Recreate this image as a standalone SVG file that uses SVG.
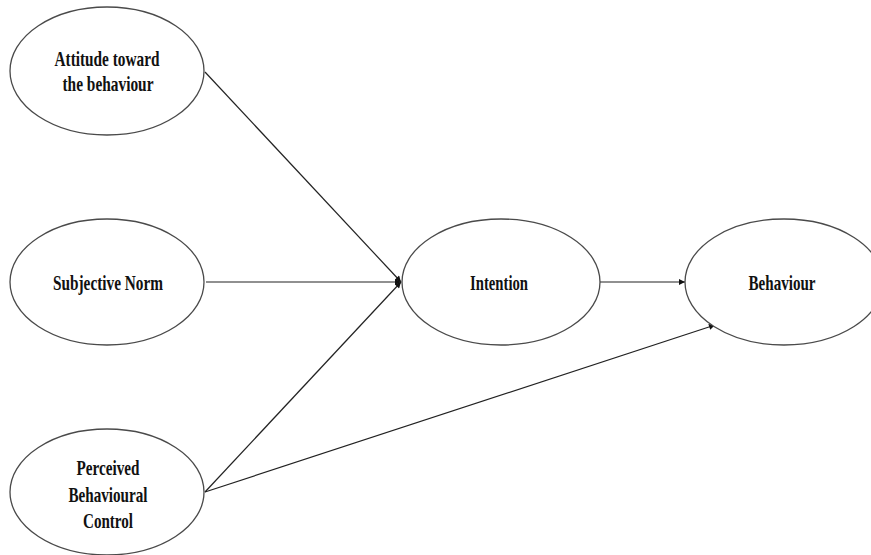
<svg xmlns="http://www.w3.org/2000/svg" width="871" height="555" viewBox="0 0 871 555">
<style>
ellipse{fill:#fff;stroke:#4a4a4a;stroke-width:1.3}
text{font-family:"Liberation Serif","Times New Roman",serif;font-weight:bold;font-size:21px;fill:#111;text-anchor:middle}
.c{stroke:#222;stroke-width:1.2;fill:none}
</style>
<defs>
<marker id="ah" viewBox="0 0 10 10" refX="10" refY="5" markerWidth="8" markerHeight="6" markerUnits="userSpaceOnUse" orient="auto">
<path d="M0,0L10,5L0,10z" fill="#111"/>
</marker>
</defs>
<rect width="871" height="555" fill="#fff"/>
<g id="connectors">
<line class="c" x1="205" y1="72" x2="401" y2="282" marker-end="url(#ah)"/>
<line class="c" x1="206" y1="282" x2="401" y2="282" marker-end="url(#ah)"/>
<line class="c" x1="205" y1="492" x2="401" y2="282" marker-end="url(#ah)"/>
<line class="c" x1="205" y1="492" x2="715" y2="325" marker-end="url(#ah)"/>
<line class="c" x1="600" y1="282" x2="685" y2="282" marker-end="url(#ah)"/>
</g>
<g id="attitude">
<ellipse cx="107" cy="71" rx="97" ry="64"/>
<text x="107" y="66" textLength="105" lengthAdjust="spacingAndGlyphs">Attitude toward</text>
<text x="108" y="91" textLength="91" lengthAdjust="spacingAndGlyphs">the behaviour</text>
</g>
<g id="subjective">
<ellipse cx="107" cy="282" rx="97" ry="63"/>
<text x="108" y="290" textLength="110" lengthAdjust="spacingAndGlyphs">Subjective Norm</text>
</g>
<g id="perceived">
<ellipse cx="107" cy="492" rx="97" ry="63"/>
<text x="108" y="475" textLength="63" lengthAdjust="spacingAndGlyphs">Perceived</text>
<text x="108" y="502" textLength="79" lengthAdjust="spacingAndGlyphs">Behavioural</text>
<text x="108" y="528" textLength="50" lengthAdjust="spacingAndGlyphs">Control</text>
</g>
<g id="intention">
<ellipse cx="501" cy="282" rx="99" ry="63"/>
<text x="499" y="290" textLength="58" lengthAdjust="spacingAndGlyphs">Intention</text>
</g>
<g id="behaviour">
<ellipse cx="784" cy="282" rx="99" ry="63"/>
<text x="782" y="290" textLength="67" lengthAdjust="spacingAndGlyphs">Behaviour</text>
</g>
</svg>
